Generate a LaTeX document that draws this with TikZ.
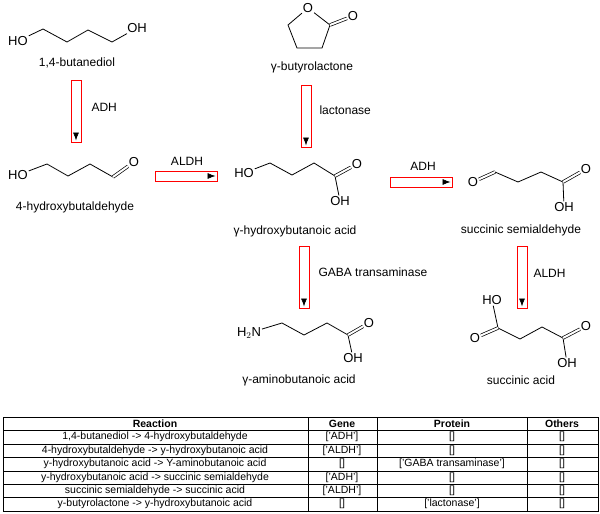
\documentclass[tikz,border=0pt]{standalone}
\usepackage{fontspec}
\setmainfont{Liberation Sans}
\usetikzlibrary{arrows.meta}
\tikzset{
  atom/.style={inner sep=0.8pt, font=\fontsize{13}{14}\selectfont},
  molname/.style={font=\fontsize{12}{13}\selectfont},
  bond/.style={line width=0.8pt},
  dbond/.style={line width=0.7pt, double, double distance=2pt},
  vbox/.style={draw=red, line width=0.9pt, minimum width=10pt, minimum height=62pt, inner sep=0pt},
  hbox/.style={draw=red, line width=0.9pt, minimum width=62pt, minimum height=10pt, inner sep=0pt},
  rxn/.style={line width=0.6pt, double, double distance=3.5pt, -{Latex[length=8pt,width=6pt]}, shorten >=1.5pt, shorten <=1pt},
  cell/.style={font=\fontsize{10.5}{12}\selectfont, inner sep=0pt},
  head/.style={cell, font=\fontsize{10.5}{12}\selectfont\bfseries}
}
\begin{document}
\begin{tikzpicture}[x=1pt,y=-1pt]
\useasboundingbox (0,0) rectangle (600,514);
%
% 1,4-butanediol
\node[atom] (bdHO) at (18,41) {HO};
\node[atom] (bdOH) at (137,28) {OH};
\draw[bond] (bdHO) -- (43,29) -- (67,42) -- (88,30) -- (112,42) -- (bdOH);
\node[molname] (bd) at (77,63) {1,4-butanediol};
%
% 4-hydroxybutaldehyde
\node[atom] (hbHO) at (18,175) {HO};
\node[atom] (hbO) at (134,162) {O};
\draw[bond] (hbHO) -- (47,164) -- (68,176) -- (90,164) -- (113,177);
\draw[dbond] (113,177) -- (hbO);
\node[molname] (hb) at (75,207) {4-hydroxybutaldehyde};
%
% gamma-butyrolactone
\node[atom] (blO) at (308,8) {O};
\node[atom] (blO2) at (353,16) {O};
\coordinate (bl1) at (288,25);
\coordinate (bl2) at (297,48);
\coordinate (bl3) at (322,48);
\coordinate (bl4) at (330,25);
\draw[bond] (blO) -- (bl1) -- (bl2) -- (bl3) -- (bl4) -- (blO);
\draw[dbond] (bl4) -- (blO2);
\node[molname] (bl) at (312,67) {γ-butyrolactone};
%
% gamma-hydroxybutanoic acid
\node[atom] (haHO) at (244,173) {HO};
\node[atom] (haO) at (357,164) {O};
\node[atom] (haOH) at (340,201) {OH};
\coordinate (haC) at (335,176);
\draw[bond] (haHO) -- (270,163) -- (292,175) -- (314,163) -- (haC) -- (haOH);
\draw[dbond] (haC) -- (haO);
\node[molname] (ha) at (295,231) {γ-hydroxybutanoic acid};
%
% succinic semialdehyde
\node[atom] (ssO) at (473,182) {O};
\node[atom] (ssO2) at (586,169) {O};
\node[atom] (ssOH) at (564,207) {OH};
\coordinate (ss1) at (495,172);
\coordinate (ssC) at (563,182);
\draw[dbond] (ssO) -- (ss1);
\draw[bond] (ss1) -- (518,182) -- (541,172) -- (ssC) -- (ssOH);
\draw[dbond] (ssC) -- (ssO2);
\node[molname] (ss) at (521,230) {succinic semialdehyde};
%
% gamma-aminobutanoic acid
\node[atom] (gaN) at (249,333) {H$_2$N};
\node[atom] (gaO) at (369,323) {O};
\node[atom] (gaOH) at (353,358) {OH};
\coordinate (gaC) at (348,335);
\draw[bond] (gaN) -- (282,323) -- (304,335) -- (327,323) -- (gaC) -- (gaOH);
\draw[dbond] (gaC) -- (gaO);
\node[molname] (ga) at (299,380) {γ-aminobutanoic acid};
%
% succinic acid
\node[atom] (saHO) at (492,300) {HO};
\node[atom] (saO) at (475,338) {O};
\node[atom] (saO2) at (586,326) {O};
\node[atom] (saOH) at (567,363) {OH};
\coordinate (saC1) at (498,328);
\coordinate (saC4) at (563,338);
\draw[bond] (saHO) -- (saC1) -- (520,339) -- (542,327) -- (saC4) -- (saOH);
\draw[dbond] (saC1) -- (saO);
\draw[dbond] (saC4) -- (saO2);
\node[molname] (sa) at (521,380) {succinic acid};
%
% reaction arrows
\coordinate (r1) at (76,111);
\draw[rxn] (76,80) -- (76,142);
\node[vbox] (r1b) at (r1) {};
\node[molname, anchor=west] at (88,107) {ADH};
\coordinate (r2) at (186,176);
\draw[rxn] (155,176) -- (217,176);
\node[hbox] (r2b) at (r2) {};
\node[molname] at (187,161) {ALDH};
\coordinate (r3) at (306,116);
\draw[rxn] (306,85) -- (306,147);
\node[vbox] (r3b) at (r3) {};
\node[molname, anchor=west] at (316,110) {lactonase};
\coordinate (r4) at (421,182);
\draw[rxn] (390,182) -- (452,182);
\node[hbox] (r4b) at (r4) {};
\node[molname] at (423,166) {ADH};
\coordinate (r5) at (304,277);
\draw[rxn] (304,246) -- (304,308);
\node[vbox] (r5b) at (r5) {};
\node[molname, anchor=west] at (315,272) {GABA transaminase};
\coordinate (r6) at (522,277);
\draw[rxn] (522,246) -- (522,308);
\node[vbox] (r6b) at (r6) {};
\node[molname, anchor=west] at (530,273) {ALDH};
%
% table
\draw[line width=0.5pt] (3,417) rectangle (598,511);
\foreach \i in {1,...,6}
  \draw[line width=0.4pt] (3,417+13.43*\i) -- (598,417+13.43*\i);
\foreach \x in {308,377,527}
  \draw[line width=0.4pt] (\x,417) -- (\x,511);
\node[head] (th1) at (155,423.7) {Reaction};
\node[head] (th2) at (342,423.7) {Gene};
\node[head] (th3) at (452,423.7) {Protein};
\node[head] (th4) at (562,423.7) {Others};
\foreach \r/\g/\p [count=\i] in {
  {1,4-butanediol -> 4-hydroxybutaldehyde}/{['ADH']}/{[]},
  {4-hydroxybutaldehyde -> y-hydroxybutanoic acid}/{['ALDH']}/{[]},
  {y-hydroxybutanoic acid -> Y-aminobutanoic acid}/{[]}/{['GABA transaminase']},
  {y-hydroxybutanoic acid -> succinic semialdehyde}/{['ADH']}/{[]},
  {succinic semialdehyde -> succinic acid}/{['ALDH']}/{[]},
  {y-butyrolactone -> y-hydroxybutanoic acid}/{[]}/{['lactonase']}} {
  \node[cell] (tr\i) at (155,423.7+13.43*\i) {\r};
  \node[cell] (tg\i) at (342,423.7+13.43*\i) {\g};
  \node[cell] (tp\i) at (452,423.7+13.43*\i) {\p};
  \node[cell] (to\i) at (562,423.7+13.43*\i) {[]};
}
\end{tikzpicture}
\end{document}
